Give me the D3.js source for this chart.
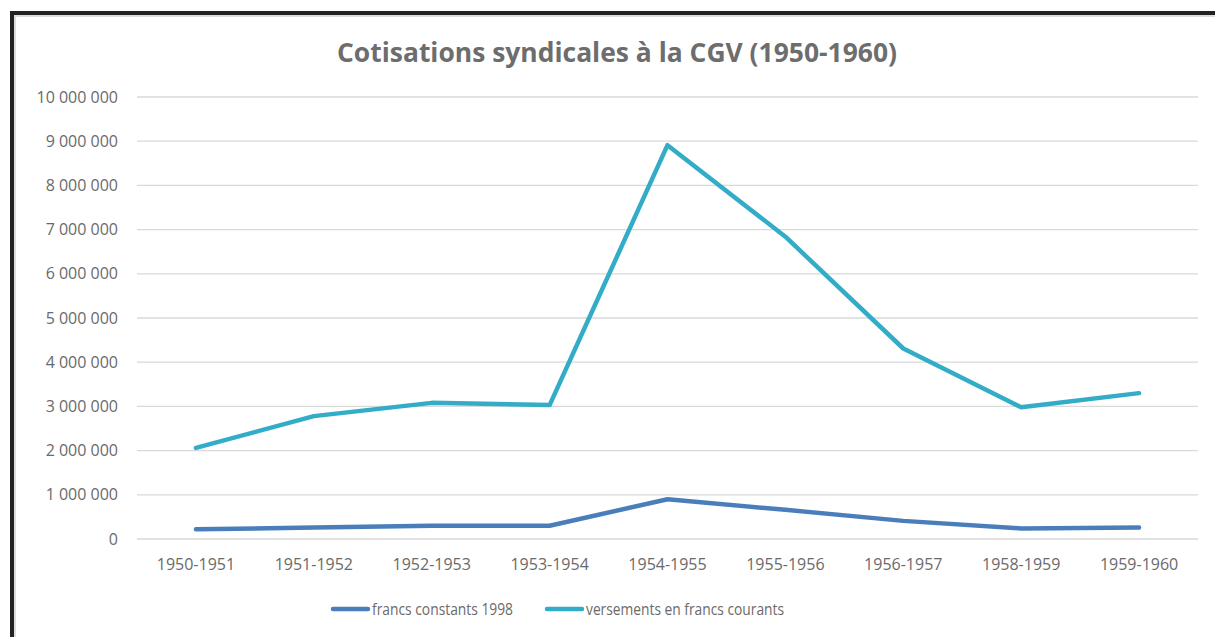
<!DOCTYPE html>
<html>
<head>
<meta charset="utf-8">
<script src="https://cdn.jsdelivr.net/npm/d3@7"></script>
<style>
  body { margin: 0; background: #fff; }
  svg { display: block; }
  svg text { font-family: "Open Sans", "Noto Sans", sans-serif; }
</style>
</head>
<body>
<div id="chart"></div>
<script>
const periods = ['1950-1951', '1951-1952', '1952-1953', '1953-1954', '1954-1955',
  '1955-1956', '1956-1957', '1958-1959', '1959-1960'];
const constants1998 = [220000, 260000, 300000, 300000, 900000, 660000, 410000, 240000, 260000];
const courants = [2060000, 2780000, 3080000, 3030000, 8910000, 6840000, 4310000, 2980000, 3300000];
const yTicks = [0, 1e6, 2e6, 3e6, 4e6, 5e6, 6e6, 7e6, 8e6, 9e6, 1e7];
const seriesNames = ['francs constants 1998', 'versements en francs courants'];
const colors = ['#4a7ebb', '#33acc7'];

const width = 1215, height = 637;
const margin = { top: 97, right: 17, bottom: 98, left: 137 };

const svg = d3.select('#chart').append('svg')
  .attr('width', width).attr('height', height);

// frame (only top and left edges show)
svg.append('line').attr('x1', 10).attr('x2', width).attr('y1', 16).attr('y2', 16)
  .attr('stroke', '#ddd').attr('stroke-width', 2);
svg.append('line').attr('x1', 15).attr('x2', 15).attr('y1', 12).attr('y2', height)
  .attr('stroke', '#ddd').attr('stroke-width', 2);
svg.append('line').attr('x1', 10).attr('x2', width).attr('y1', 13).attr('y2', 13)
  .attr('stroke', '#222').attr('stroke-width', 4);
svg.append('line').attr('x1', 12).attr('x2', 12).attr('y1', 11).attr('y2', height)
  .attr('stroke', '#222').attr('stroke-width', 4);

const x = d3.scaleBand().domain(periods)
  .range([margin.left, width - margin.right]);
const y = d3.scaleLinear().domain([0, 1e7])
  .range([height - margin.bottom, margin.top]);

const fmt = v => d3.format(',')(v).replace(/,/g, ' ');

// grid
svg.append('g')
  .selectAll('line').data(yTicks).enter().append('line')
  .attr('x1', margin.left).attr('x2', width - margin.right)
  .attr('y1', d => y(d)).attr('y2', d => y(d))
  .attr('stroke', '#d9d9d9').attr('stroke-width', 1.3);

// y axis
const yAxis = svg.append('g')
  .attr('transform', `translate(${margin.left - 19},0)`)
  .call(d3.axisLeft(y).tickValues(yTicks).tickFormat(fmt).tickSize(0).tickPadding(0));
yAxis.select('.domain').remove();
yAxis.attr('font-family', null).attr('font-size', null);
yAxis.selectAll('text').attr('fill', '#6a6a6a').style('font-size', '16px');

// x axis
const xAxis = svg.append('g')
  .attr('transform', `translate(0,${height - margin.bottom})`)
  .call(d3.axisBottom(x).tickSize(0).tickPadding(20));
xAxis.select('.domain').remove();
xAxis.attr('font-family', null).attr('font-size', null);
xAxis.selectAll('text').attr('fill', '#6a6a6a').style('font-size', '16px');

// lines
const line = d3.line()
  .x((d, i) => x(periods[i]) + x.bandwidth() / 2)
  .y(d => y(d));

[constants1998, courants].forEach((s, k) => {
  svg.append('path')
    .attr('d', line(s))
    .attr('fill', 'none')
    .attr('stroke', colors[k])
    .attr('stroke-width', 4.5)
    .attr('stroke-linejoin', 'round')
    .attr('stroke-linecap', 'round');
});

// title
svg.append('text')
  .attr('x', 617).attr('y', 62)
  .attr('text-anchor', 'middle')
  .attr('fill', '#6d6d6d')
  .style('font-size', '26px').style('font-weight', 'bold')
  .attr('textLength', 560).attr('lengthAdjust', 'spacingAndGlyphs')
  .text('Cotisations syndicales à la CGV (1950-1960)');

// legend
const legendX = [333, 547];
const legendLen = [141, 198];
const legend = svg.append('g');
seriesNames.forEach((name, k) => {
  legend.append('line')
    .attr('x1', legendX[k]).attr('x2', legendX[k] + 35)
    .attr('y1', 609).attr('y2', 609)
    .attr('stroke', colors[k]).attr('stroke-width', 4.5)
    .attr('stroke-linecap', 'round');
  legend.append('text')
    .attr('x', legendX[k] + 39).attr('y', 615)
    .attr('fill', '#6a6a6a')
    .style('font-size', '16px')
    .attr('textLength', legendLen[k]).attr('lengthAdjust', 'spacingAndGlyphs')
    .text(name);
});
</script>
</body>
</html>
